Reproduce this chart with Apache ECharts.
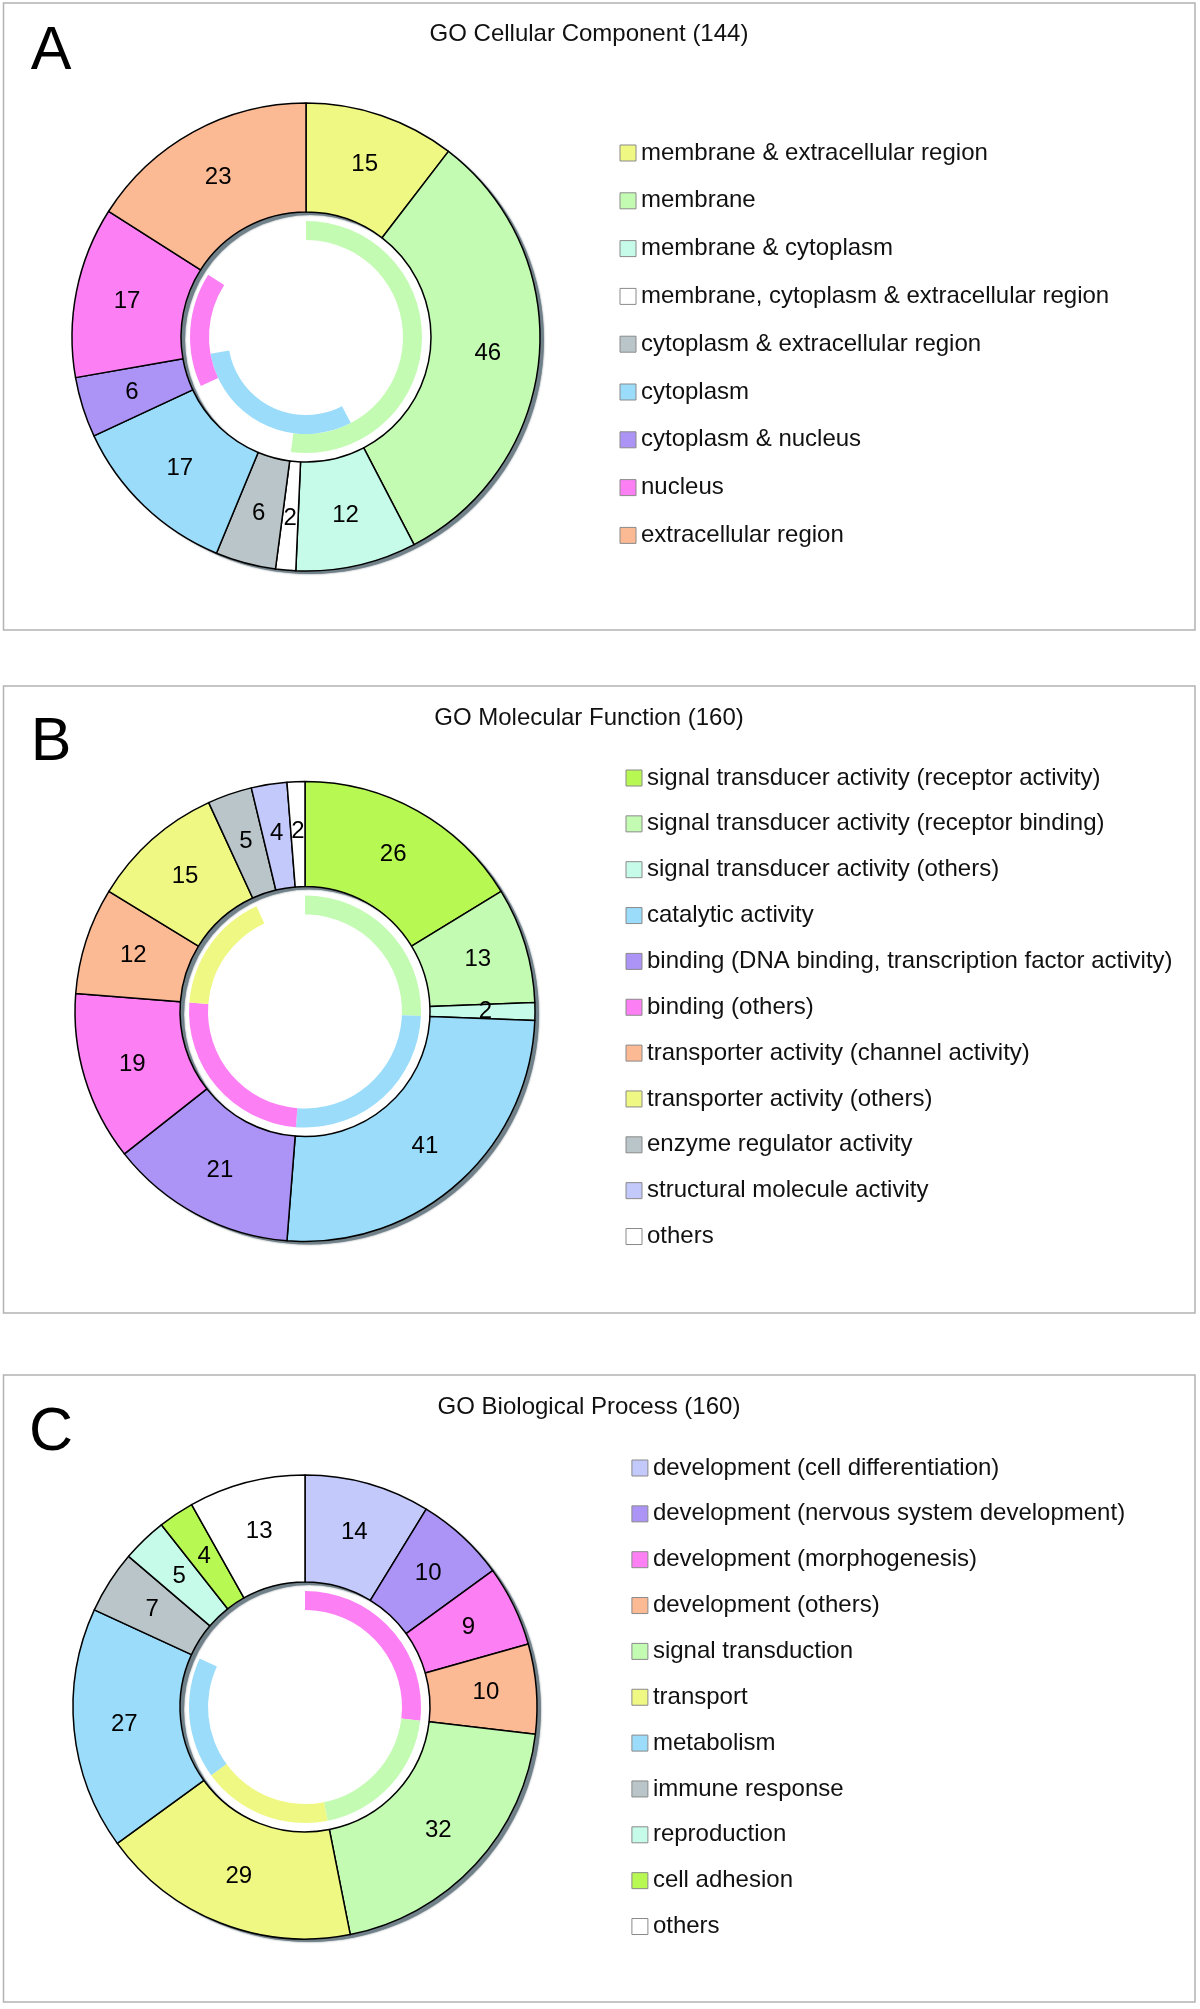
<!DOCTYPE html>
<html><head><meta charset="utf-8">
<script src="https://cdn.jsdelivr.net/npm/echarts@6/dist/echarts.min.js"></script>
<style>html,body{margin:0;padding:0;background:#fff}#c{width:1200px;height:2009px}</style>
</head><body><div id="c"></div>
<script>
// ---------- DATA ----------
const titleA = 'GO Cellular Component (144)';
const catA = ['membrane & extracellular region','membrane','membrane & cytoplasm','membrane, cytoplasm & extracellular region','cytoplasm & extracellular region','cytoplasm','cytoplasm & nucleus','nucleus','extracellular region'];
const valA = [15,46,12,2,6,17,6,17,23];
const arcNameA = ['membrane','cytoplasm','nucleus'];
const arcFirstA = [0,2,6];
const arcLastA = [3,6,7];

const titleB = 'GO Molecular Function (160)';
const catB = ['signal transducer activity (receptor activity)','signal transducer activity (receptor binding)','signal transducer activity (others)','catalytic activity','binding (DNA binding, transcription factor activity)','binding (others)','transporter activity (channel activity)','transporter activity (others)','enzyme regulator activity','structural molecule activity','others'];
const valB = [26,13,2,41,21,19,12,15,5,4,2];
const arcNameB = ['signal transducer activity','catalytic activity','binding','transporter activity'];
const arcFirstB = [0,3,4,6];
const arcLastB = [2,3,5,7];

const titleC = 'GO Biological Process (160)';
const catC = ['development (cell differentiation)','development (nervous system development)','development (morphogenesis)','development (others)','signal transduction','transport','metabolism','immune response','reproduction','cell adhesion','others'];
const valC = [14,10,9,10,32,29,27,7,5,4,13];
const arcNameC = ['development','signal transduction','transport','metabolism'];
const arcFirstC = [0,4,5,6];
const arcLastC = [3,4,5,6];

// ---------- STYLES ----------
const Y='#F0F884', G='#C3FBB3', M='#C6FBEA', W='#FFFFFF', GR='#B9C5C8', BL='#9ADCFA',
      PU='#AB94F6', PK='#FC80F4', PE='#FBB994', LI='#B8F853', PW='#C3C9FA';
const colA = [Y,G,M,W,GR,BL,PU,PK,PE];
const colB = [LI,G,M,BL,PU,PK,PE,Y,GR,PW,W];
const colC = [PW,PU,PK,PE,G,Y,BL,GR,M,LI,W];
const arcColA = [G,BL,PK], arcRingA = [0,1,0];
const arcColB = [G,BL,PK,Y], arcRingB = [0,0,0,0];
const arcColC = [PK,G,Y,BL], arcRingC = [0,0,0,0];

const FONT = '"Liberation Sans", Arial, Helvetica, sans-serif';
const panels = [
  {letter:'A', title:titleA, cats:catA, vals:valA, cols:colA, an:arcNameA, af:arcFirstA, al:arcLastA, ac:arcColA, ar:arcRingA,
   boxY:3, cx:306, cy:337, r:234, letterY:52, titleY:34, legX:619.5, legY:153, rowH:47.8},
  {letter:'B', title:titleB, cats:catB, vals:valB, cols:colB, an:arcNameB, af:arcFirstB, al:arcLastB, ac:arcColB, ar:arcRingB,
   boxY:686, cx:305, cy:1011.5, r:230, letterY:743, titleY:718, legX:625.5, legY:778, rowH:45.85},
  {letter:'C', title:titleC, cats:catC, vals:valC, cols:colC, an:arcNameC, af:arcFirstC, al:arcLastC, ac:arcColC, ar:arcRingC,
   boxY:1375, cx:305, cy:1707, r:232, letterY:1433, titleY:1407, legX:631.4, legY:1468, rowH:45.85}
];
const R0 = 125;
const RINGS = [[97,116],[78,97]];
const LINE_H = 24;
const sum = a => a.reduce((s,v)=>s+v,0);
const clear = 'rgba(0,0,0,0)';

const series = [], legend = [], graphic = [];
panels.forEach(p => {
  const total = sum(p.vals);
  // drop shadow ring
  series.push({type:'pie', silent:true, animation:false, z:1,
    center:[p.cx+4, p.cy+3], radius:[R0, p.r], startAngle:90,
    label:{show:false}, labelLine:{show:false},
    itemStyle:{color:'#71818a', shadowBlur:2, shadowColor:'rgba(80,95,105,0.8)'},
    data:[{value:1, name:'shadow-'+p.letter}]});
  // main donut
  series.push({type:'pie', animation:false, z:2,
    center:[p.cx, p.cy], radius:[R0, p.r], startAngle:90, clockwise:true,
    itemStyle:{borderColor:'#000', borderWidth:1.5},
    label:{show:true, position:'inside', formatter:'{c}', fontSize:24, color:'#000', fontFamily:FONT},
    labelLine:{show:false}, emphasis:{disabled:true},
    data:p.cats.map((n,i)=>({name:n, value:p.vals[i], itemStyle:{color:p.cols[i]}}))});
  // inner arcs
  p.an.forEach((nm,k) => {
    const pre = sum(p.vals.slice(0, p.af[k]));
    const mid = sum(p.vals.slice(p.af[k], p.al[k]+1));
    const post = total - pre - mid;
    series.push({type:'pie', silent:true, animation:false, z:3,
      center:[p.cx, p.cy], radius:RINGS[p.ar[k]], startAngle:90, clockwise:true,
      label:{show:false}, labelLine:{show:false},
      data:[{value:pre, name:'', itemStyle:{color:clear}},
            {value:mid, name:nm+' ', itemStyle:{color:p.ac[k]}},
            {value:post, name:' ', itemStyle:{color:clear}}]});
  });
  legend.push({orient:'vertical', left:p.legX, top:p.legY - LINE_H/2, padding:0,
    itemWidth:16, itemHeight:16, itemGap:p.rowH - LINE_H, icon:'rect', selectedMode:false,
    data:p.cats, itemStyle:{borderColor:'#8a8a8a', borderWidth:1},
    textStyle:{fontSize:24, color:'#111', fontFamily:FONT, lineHeight:LINE_H}});
  graphic.push({type:'rect', silent:true, z:-10,
    shape:{x:3.5, y:p.boxY, width:1191.5, height:627},
    style:{fill:'none', stroke:'#b3b3b3', lineWidth:1.5}});
  graphic.push({type:'text', silent:true, x:51, y:p.letterY,
    style:{text:p.letter, font:'61px '+FONT, fill:'#000', align:'center', verticalAlign:'middle'}});
  graphic.push({type:'text', silent:true, x:589, y:p.titleY,
    style:{text:p.title, font:'24px '+FONT, fill:'#111', align:'center', verticalAlign:'middle'}});
});

const chart = echarts.init(document.getElementById('c'), null, {renderer:'canvas'});
chart.setOption({animation:false, backgroundColor:'#fff', series, legend, graphic});
</script></body></html>
